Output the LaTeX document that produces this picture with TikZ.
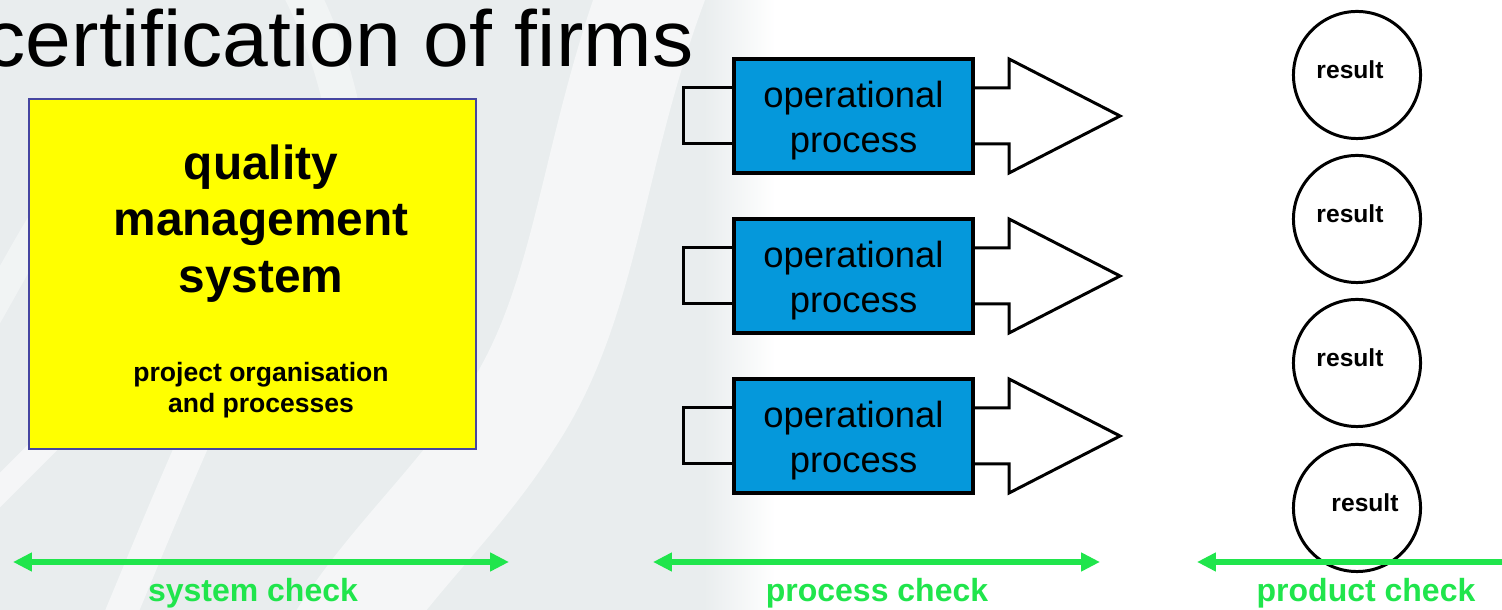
\documentclass[tikz,border=0pt]{standalone}
\usepackage{fontspec}
\setmainfont{Liberation Sans}
\usetikzlibrary{arrows.meta,calc,shapes.geometric}
\definecolor{bggray}{RGB}{233,237,238}
\definecolor{qyellow}{RGB}{255,255,0}
\definecolor{qborder}{RGB}{70,70,160}
\definecolor{pblue}{RGB}{5,152,219}
\definecolor{cgreen}{RGB}{32,229,76}
\tikzset{
  procbox/.style={draw=black, fill=pblue, line width=1.15pt, minimum width=2.39cm,
    minimum height=1.14cm, inner sep=0pt},
  proctext/.style={align=center, inner sep=0pt, font=\fontsize{10.35pt}{12.8pt}\selectfont},
  procline/.style={draw=black, line width=0.85pt, line join=miter},
  rescircle/.style={circle, draw=black, line width=0.85pt, minimum size=1.27cm, inner sep=0pt},
  restext/.style={anchor=base, font=\bfseries\fontsize{7pt}{8pt}\selectfont},
  checkarrow/.style={draw=cgreen, line width=1.55pt, {Triangle[length=5.4pt,width=5.1pt]}-{Triangle[length=5.4pt,width=5.1pt]}},
  checklabel/.style={anchor=base, text=cgreen, font=\bfseries\fontsize{9.1pt}{11pt}\selectfont},
  qmstext/.style={anchor=base, font=\bfseries\fontsize{13.6pt}{16pt}\selectfont},
  qmssub/.style={anchor=base, font=\bfseries\fontsize{7.55pt}{9pt}\selectfont},
  swoosh/.style={white, opacity=0.55, line cap=round}
}
\begin{document}
\begin{tikzpicture}[x=0.01cm,y=-0.01cm]
\useasboundingbox (0,0) rectangle (1502,610);
\clip (0,0) rectangle (1502,610);
% background watermark
\fill[white] (0,0) rectangle (1502,610);
\fill[bggray] (0,0) rectangle (705,610);
\shade[left color=bggray, right color=white] (704,0) rectangle (775,610);
\draw[swoosh, line width=30pt] (660,-30) .. controls (590,150) and (590,300) .. (510,420) .. controls (460,500) and (390,560) .. (340,640);
\draw[swoosh, line width=9pt] (110,640) .. controls (160,520) and (200,420) .. (260,300);
\draw[swoosh, line width=7pt] (-20,510) .. controls (20,470) and (50,440) .. (90,400);
\draw[swoosh, line width=8pt, opacity=0.4] (-20,330) .. controls (20,260) and (40,220) .. (70,180);
\draw[swoosh, line width=10pt, opacity=0.4] (300,-10) .. controls (320,30) and (330,60) .. (340,100);

% title
\node[anchor=base east, inner sep=0pt, xscale=1.035, font=\fontsize{22.6pt}{27pt}\selectfont] (title) at (694,67) {certification of firms};

% quality management system box
\node[draw=qborder, fill=qyellow, line width=0.6pt, minimum width=4.47cm, minimum height=3.5cm, inner sep=0pt] (qms) at (252.5,274) {};
\node[qmstext] (q1) at (261,180) {quality};
\node[qmstext] (q2) at (261,236) {management};
\node[qmstext] (q3) at (261,293) {system};
\node[qmssub] (s1) at (261,382) {project organisation};
\node[qmssub] (s2) at (261,413) {and processes};

% operational processes
\foreach \i/\yy in {1/116, 2/276, 3/436} {
  \node[procbox] (p\i) at (853.5,\yy) {};
  \node[proctext] (pt\i) at ($(p\i.center)+(0,5)$) {operational\\process};
  \draw[procline] ($(p\i.west)+(0,-28)$) -- ++(-48,0) -- ++(0,56) -- ($(p\i.west)+(0,28)$);
  \draw[procline, fill=white] ($(p\i.east)+(0,-28)$) -- ++(34,0) -- ++(0,-29) -- ++(111,57) -- ++(-111,57) -- ++(0,-29) -- ($(p\i.east)+(0,28)$);
}

% results
\foreach \i/\yy/\dx in {1/75/-7, 2/219/-7, 3/363/-7, 4/508/8} {
  \node[rescircle] (r\i) at (1357,\yy) {};
  \node[restext] (t\i) at ($(r\i.center)+(\dx,4)$) {result};
}

% check arrows
\coordinate (sysL) at (13,562);
\coordinate (sysR) at (509,562);
\coordinate (proL) at (653,562);
\coordinate (proR) at (1100,562);
\coordinate (prdL) at (1197,562);
\coordinate (prdR) at (1522,562);
\draw[checkarrow] (sysL) -- (sysR);
\draw[checkarrow] (proL) -- (proR);
\draw[checkarrow] (prdL) -- (prdR);
\node[checklabel] (lsys) at (253,602) {system check};
\node[checklabel] (lpro) at (877,602) {process check};
\node[checklabel] (lprd) at (1366,602) {product check};
\end{tikzpicture}
\end{document}
